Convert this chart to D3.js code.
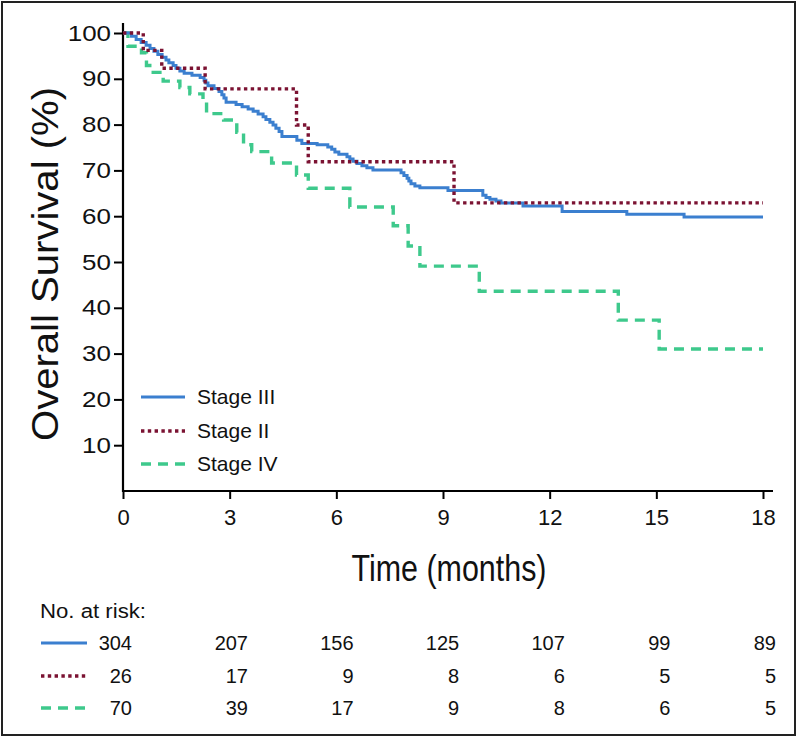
<!DOCTYPE html>
<html><head><meta charset="utf-8">
<script src="https://cdn.jsdelivr.net/npm/d3@7"></script>
<style>
body{margin:0;background:#fff}
text{font-family:"Liberation Sans",Arial,Helvetica,sans-serif;fill:#111}
</style>
</head><body>
<svg id="chart" width="798" height="738"></svg>
<script>
// ---- data ----
const seriesNames = ["Stage III", "Stage II", "Stage IV"];
const seriesColors = ["#3b7fcf", "#7b1232", "#3ec98c"];

const stageIIITimes = [0,0.24,0.37,0.51,0.65,0.76,0.87,0.98,1.10,1.21,1.29,1.41,1.49,1.60,1.72,1.94,2.17,2.28,2.33,2.39,2.56,2.70,2.78,2.84,2.90,3.18,3.35,3.52,3.66,3.80,3.94,4.02,4.13,4.22,4.30,4.39,4.47,4.89,5.03,5.46,5.76,5.87,5.96,6.07,6.30,6.38,6.47,6.58,6.72,6.86,7.03,7.82,7.90,7.99,8.04,8.10,8.21,8.35,9.14,10.12,10.21,10.32,10.49,10.63,11.25,12.35,14.17,15.78,18];
const stageIIISurv  = [100,99.3,98.6,97.9,97.3,96.6,96.0,95.3,94.7,94.1,93.5,92.9,92.3,91.7,91.2,90.8,90.3,89.7,89.1,88.5,87.9,87.2,86.5,85.8,84.9,84.4,83.9,83.4,82.9,82.3,81.7,81.1,80.5,79.9,79.2,78.5,77.4,76.6,75.9,75.6,75.1,74.6,74.0,73.5,73.0,72.5,72.0,71.5,71.0,70.6,70.1,69.5,68.9,68.3,67.7,67.1,66.6,66.2,65.6,64.6,64.1,63.7,63.3,62.9,62.2,61.0,60.4,59.8,59.8];

const stageIITimes = [0,0.57,1.09,2.31,4.88,5.21,9.31,18];
const stageIISurv  = [100,96.2,92.3,87.8,79.9,71.9,62.9,62.9];

const stageIVTimes = [0,0.14,0.52,0.66,0.85,1.13,1.60,1.88,2.25,2.35,2.83,3.20,3.39,3.62,4.18,4.88,5.21,6.38,7.60,8.02,8.35,10.02,13.93,15.08,18];
const stageIVSurv  = [100,97.1,95.7,92.9,91.4,89.5,88.1,86.7,85.2,82.4,81.0,78.3,75.6,74.1,71.6,69.0,66.1,62.0,57.9,53.5,49.1,43.6,37.3,31.0,31.0];

const xTicks = [0,3,6,9,12,15,18];
const yTicks = [10,20,30,40,50,60,70,80,90,100];

const riskTimes = [0,3,6,9,12,15,18];
const riskIII = [304,207,156,125,107,99,89];
const riskII  = [26,17,9,8,6,5,5];
const riskIV  = [70,39,17,9,8,6,5];

// ---- drawing ----
const svg = d3.select("#chart");
const x = d3.scaleLinear().domain([0,18]).range([123,763]);
const y = d3.scaleLinear().domain([0,100]).range([491,33]);

const dashes = [null, "3.4,3.4", "10,7"];
const widths = [3, 3.4, 3.4];

// frame
svg.append("rect").attr("x",2).attr("y",2).attr("width",793).attr("height",733)
  .attr("fill","none").attr("stroke","#222").attr("stroke-width",2);

// axes
const yAxis = svg.append("g").attr("transform",`translate(${x(0)},0)`)
  .call(d3.axisLeft(y).tickValues(yTicks).tickSize(9).tickSizeOuter(0).tickPadding(3));
yAxis.select(".domain").remove();
yAxis.selectAll("line").attr("stroke","#000").attr("stroke-width",2);
yAxis.selectAll("text").attr("font-size",22).style("font-family",'"Liberation Sans",Arial,sans-serif').attr("fill","#111")
  .each(function(){ const w=this.getComputedTextLength(); d3.select(this).attr("textLength",w*1.18).attr("lengthAdjust","spacingAndGlyphs"); });

const xAxis = svg.append("g").attr("transform",`translate(0,${y(0)})`)
  .call(d3.axisBottom(x).tickValues(xTicks).tickSize(8).tickSizeOuter(0).tickPadding(10));
xAxis.select(".domain").remove();
xAxis.selectAll("line").attr("stroke","#000").attr("stroke-width",2);
xAxis.selectAll("text").attr("font-size",22).style("font-family",'"Liberation Sans",Arial,sans-serif').attr("fill","#111");

// axis lines
svg.append("line").attr("x1",x(0)).attr("x2",x(0)).attr("y1",y(0)+1).attr("y2",y(100)-10)
  .attr("stroke","#000").attr("stroke-width",2.2);
svg.append("line").attr("x1",x(0)-1).attr("x2",x(18)+10).attr("y1",y(0)).attr("y2",y(0))
  .attr("stroke","#000").attr("stroke-width",2.2);

// axis titles (condensed look)
svg.append("text").attr("transform","translate(45,264) rotate(-90)")
  .attr("text-anchor","middle").attr("dy","0.35em").attr("font-size",37)
  .attr("textLength",354).attr("lengthAdjust","spacingAndGlyphs")
  .text("Overall Survival (%)");
svg.append("text").attr("x",449).attr("y",568)
  .attr("text-anchor","middle").attr("dy","0.35em").attr("font-size",37)
  .attr("textLength",195).attr("lengthAdjust","spacingAndGlyphs")
  .text("Time (months)");

// curves
const line = d3.line().x(d=>x(d[0])).y(d=>y(d[1])).curve(d3.curveStepAfter);
const seriesData = [
  d3.zip(stageIIITimes, stageIIISurv),
  d3.zip(stageIITimes, stageIISurv),
  d3.zip(stageIVTimes, stageIVSurv)
];
[2,0,1].forEach(i=>{
  svg.append("path").datum(seriesData[i]).attr("d",line)
    .attr("fill","none").attr("stroke",seriesColors[i]).attr("stroke-width",widths[i])
    .attr("stroke-dasharray",dashes[i]);
});

// legend
const legY = [397,431,464];
seriesNames.forEach((n,i)=>{
  svg.append("line").attr("x1",141).attr("x2",185).attr("y1",legY[i]).attr("y2",legY[i])
    .attr("stroke",seriesColors[i]).attr("stroke-width",widths[i]).attr("stroke-dasharray",dashes[i]);
  svg.append("text").attr("x",197).attr("y",legY[i]).attr("dy","0.35em").attr("font-size",21).text(n);
});

// risk table
svg.append("text").attr("x",40).attr("y",611).attr("dy","0.35em").attr("font-size",20)
  .attr("textLength",106).attr("lengthAdjust","spacingAndGlyphs").text("No. at risk:");
const riskX = d3.scaleLinear().domain([0,3,18]).range([132,248,776]);
const riskRows = [riskIII, riskII, riskIV];
const rowY = [643,676,708];
riskRows.forEach((row,i)=>{
  svg.append("line").attr("x1",41).attr("x2",87).attr("y1",rowY[i]).attr("y2",rowY[i])
    .attr("stroke",seriesColors[i]).attr("stroke-width",widths[i]).attr("stroke-dasharray",dashes[i]);
  row.forEach((v,j)=>{
    svg.append("text").attr("x",riskX(riskTimes[j])).attr("y",rowY[i]).attr("dy","0.35em")
      .attr("text-anchor","end").attr("font-size",20).text(v);
  });
});
</script>
</body></html>
